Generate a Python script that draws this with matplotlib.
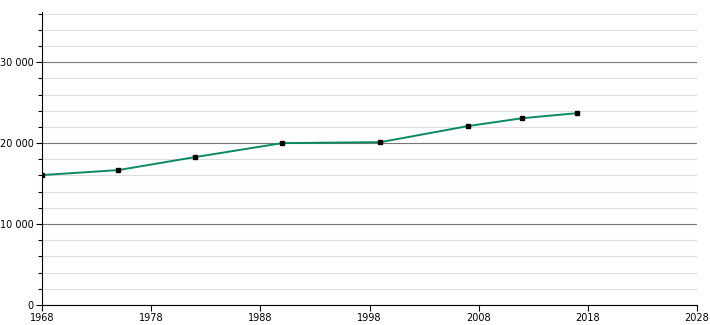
import matplotlib
matplotlib.use('Agg')
import matplotlib.pyplot as plt
from matplotlib.ticker import MultipleLocator, FuncFormatter

# === Data ===
years = [1968, 1975, 1982, 1990, 1999, 2007, 2012, 2017]
population = [16050, 16670, 18270, 20000, 20120, 22100, 23080, 23700]

x_ticks = [1968, 1978, 1988, 1998, 2008, 2018, 2028]

fig = plt.figure(figsize=(7.1, 3.25), dpi=100)
ax = fig.add_axes([42 / 710, 20 / 325, 655 / 710, 293 / 325])

ax.set_xlim(1968, 2028)
ax.set_ylim(0, 36200)

# grid: light minor lines every 2000, darker majors every 10000
ax.yaxis.set_major_locator(MultipleLocator(10000))
ax.yaxis.set_minor_locator(MultipleLocator(2000))
ax.grid(which='minor', axis='y', color='#dddddd', linewidth=0.8)
ax.grid(which='major', axis='y', color='#777777', linewidth=0.8)
ax.set_axisbelow(True)

ax.plot(years, population, color='#0a8a62', linewidth=1.4, zorder=3)
ax.plot(years, population, 's', color='black', markersize=3.5, zorder=4)

ax.set_xticks(x_ticks)
ax.yaxis.set_major_formatter(FuncFormatter(lambda v, p: f'{int(v):,}'.replace(',', ' ')))

for s in ['top', 'right']:
    ax.spines[s].set_visible(False)
ax.tick_params(axis='both', labelsize=7, length=4, width=0.8, pad=2)
ax.tick_params(axis='y', which='minor', length=3, width=0.8)

fig.savefig('out.png', dpi=100)
